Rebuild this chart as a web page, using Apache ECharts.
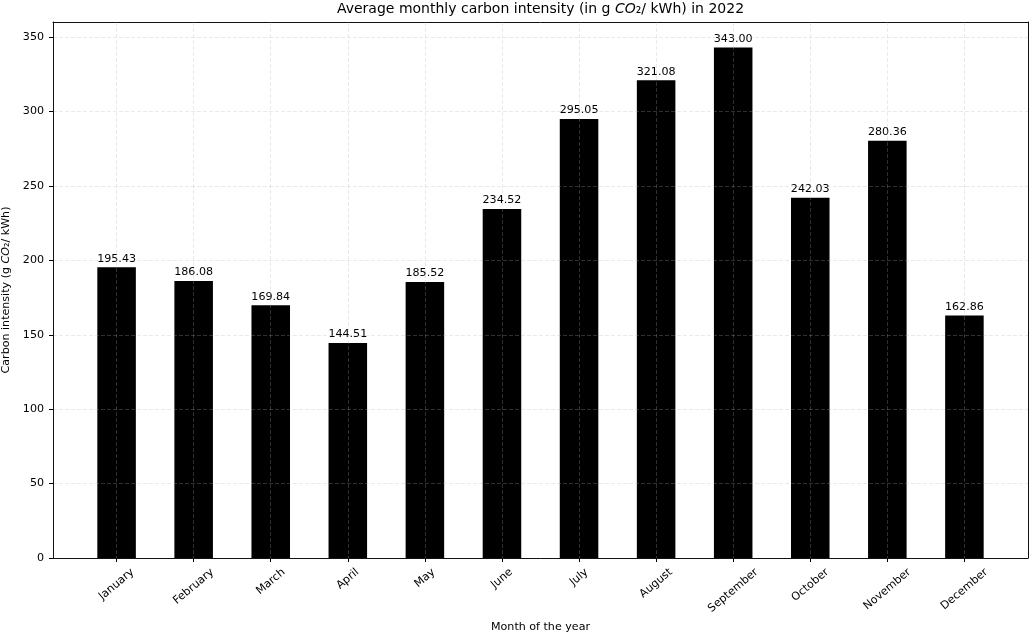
<!DOCTYPE html>
<html>
<head>
<meta charset="utf-8">
<title>Average monthly carbon intensity 2022</title>
<script src="https://cdn.jsdelivr.net/npm/echarts@6/dist/echarts.min.js"></script>
<style>
  html, body { margin: 0; padding: 0; background: #ffffff; }
  #chart { width: 1029px; height: 636px; }
</style>
</head>
<body>
<div id="chart"></div>
<script>
// Months of 2022 and the average carbon intensity (g CO2 / kWh) for each
const months = ['January', 'February', 'March', 'April', 'May', 'June',
                'July', 'August', 'September', 'October', 'November', 'December'];
const intensity = [195.43, 186.08, 169.84, 144.51, 185.52, 234.52,
                   295.05, 321.08, 343.00, 242.03, 280.36, 162.86];
const yTicks = [0, 50, 100, 150, 200, 250, 300, 350];

const monthIdx = months.map((_, i) => i);
const FONT = '"DejaVu Sans", sans-serif';
const FS = 11.1;     // tick, label and axis-title size
const FS_TITLE = 14; // title size
const ROT = 40;
const rad = ROT * Math.PI / 180;
const gridStyle = { color: 'rgba(176,176,176,0.3)', width: 0.9, type: [4, 2] };
const spine = { color: '#111', width: 1 };

// Plot frame (px) and x limits (in month units)
const PLOT = { left: 53, right: 1, top: 22, bottom: 78 };
const X_MIN = -0.825, X_MAX = 11.825;
const plotW = 1029 - PLOT.left - PLOT.right;
const unit = plotW / (X_MAX - X_MIN);
// A second grid holding a category axis whose bands line up with the month ticks
const inset = (0.5 + X_MIN) * -unit;   // distance from frame edge to first band edge

const measure = document.createElement('canvas').getContext('2d');

// Rotated month labels are centred under their tick, their top edge a few px
// below the axis; the shift is done with per-label padding.
measure.font = FS + 'px "DejaVu Sans"';
const monthRich = {};
months.forEach((m, i) => {
  const w = measure.measureText(m).width;
  const h = FS * 1.164;
  const d = 7.8 + (w * Math.sin(rad) + h * Math.cos(rad)) / 2;
  monthRich['m' + i] = {
    fontSize: FS, fontFamily: FONT, color: '#000', lineHeight: 13,
    padding: [2 * d * Math.cos(rad), 2 * d * Math.sin(rad), 0, 0]
  };
});

// Title centred over the plot frame
const titleParts = ['Average monthly carbon intensity (in g ', 'CO', '\u2082/ kWh) in 2022'];
measure.font = FS_TITLE + 'px "DejaVu Sans"';
let titleW = measure.measureText(titleParts[0]).width + measure.measureText(titleParts[2]).width;
measure.font = 'italic ' + FS_TITLE + 'px "DejaVu Sans"';
titleW += measure.measureText(titleParts[1]).width;
const plotCenter = PLOT.left + plotW / 2;

const chart = echarts.init(document.getElementById('chart'), null, { renderer: 'canvas' });

const option = {
  animation: false,
  backgroundColor: '#ffffff',
  title: {
    text: '{t|' + titleParts[0] + '}{i|' + titleParts[1] + '}{t|' + titleParts[2] + '}',
    left: plotCenter - titleW / 2,
    top: 0,
    padding: [2, 0, 0, 0],
    textStyle: {
      rich: {
        t: { fontSize: FS_TITLE, fontFamily: FONT, color: '#000', fontWeight: 'normal' },
        i: { fontSize: FS_TITLE, fontFamily: FONT, color: '#000', fontWeight: 'normal', fontStyle: 'italic' }
      }
    }
  },
  grid: [
    { left: PLOT.left, right: PLOT.right, top: PLOT.top, bottom: PLOT.bottom,
      containLabel: false, outerBoundsMode: 'none' },
    { left: PLOT.left + inset, right: PLOT.right + inset, top: PLOT.top, bottom: PLOT.bottom,
      containLabel: false, outerBoundsMode: 'none' }
  ],
  xAxis: [{
    type: 'value',
    gridIndex: 0,
    min: X_MIN,
    max: X_MAX,
    z: 3,
    axisLine: { show: true, onZero: false, lineStyle: spine },
    axisTick: { show: true, customValues: monthIdx, length: 4, lineStyle: { color: '#000', width: 1 } },
    axisLabel: { show: false },
    splitLine: { show: true, lineStyle: gridStyle }
  }, {
    type: 'value',
    gridIndex: 0,
    position: 'top',
    min: X_MIN,
    max: X_MAX,
    axisLine: { show: true, onZero: false, lineStyle: spine },
    axisTick: { show: false },
    axisLabel: { show: false },
    splitLine: { show: false }
  }, {
    type: 'category',
    gridIndex: 1,
    data: months,
    boundaryGap: true,
    axisLine: { show: false },
    axisTick: { show: false },
    splitLine: { show: false },
    axisLabel: {
      interval: 0,
      rotate: ROT,
      align: 'center',
      verticalAlign: 'middle',
      margin: 0,
      formatter: (value, index) => '{m' + index + '|' + value + '}',
      rich: monthRich
    },
    name: 'Month of the year',
    nameLocation: 'middle',
    nameGap: 62,
    nameTextStyle: { fontSize: FS, fontFamily: FONT, color: '#000' }
  }],
  yAxis: [{
    type: 'value',
    gridIndex: 0,
    min: 0,
    max: 360.15,
    z: 3,
    axisLine: { show: true, onZero: false, lineStyle: spine },
    axisTick: { show: true, customValues: yTicks, length: 4, lineStyle: { color: '#000', width: 1 } },
    axisLabel: { customValues: yTicks, margin: 9, fontSize: FS, fontFamily: FONT, color: '#000' },
    splitLine: { show: true, lineStyle: gridStyle },
    name: '{t|Carbon intensity (g }{i|CO}{t|\u2082/ kWh)}',
    nameLocation: 'middle',
    nameRotate: 90,
    nameGap: 34,
    nameTextStyle: {
      rich: {
        t: { fontSize: FS, fontFamily: FONT, color: '#000' },
        i: { fontSize: FS, fontFamily: FONT, color: '#000', fontStyle: 'italic' }
      }
    }
  }, {
    type: 'value',
    gridIndex: 0,
    position: 'right',
    min: 0,
    max: 360.15,
    axisLine: { show: true, onZero: false, lineStyle: spine },
    axisTick: { show: false },
    axisLabel: { show: false },
    splitLine: { show: false }
  }, {
    type: 'value',
    gridIndex: 1,
    min: 0,
    max: 360.15,
    show: false
  }],
  series: [{
    type: 'bar',
    xAxisIndex: 0,
    yAxisIndex: 0,
    z: 2,
    data: monthIdx.map(i => [i, intensity[i]]),
    barWidth: 0.5 * unit,   // half a month wide
    itemStyle: { color: '#000000' },
    label: {
      show: true,
      position: 'top',
      distance: 3,
      fontSize: FS,
      fontFamily: FONT,
      color: '#000',
      formatter: (p) => p.value[1].toFixed(2)
    }
  }]
};

chart.setOption(option);
</script>
</body>
</html>
